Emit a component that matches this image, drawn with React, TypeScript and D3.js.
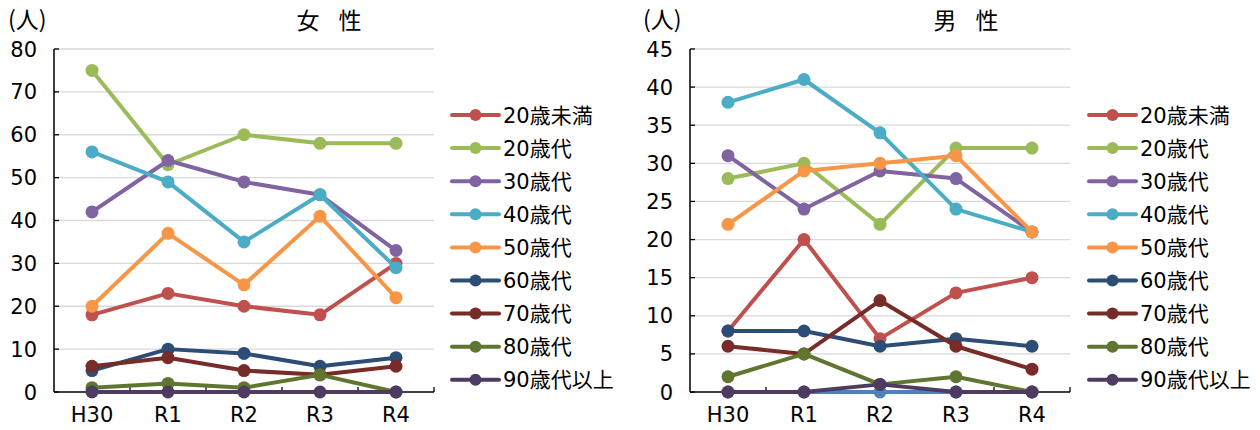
import React from "react";
import * as d3 from "d3";

const categories = ["H30", "R1", "R2", "R3", "R4"];
const seriesNames = ["20歳未満", "20歳代", "30歳代", "40歳代", "50歳代", "60歳代", "70歳代", "80歳代", "90歳代以上"];
const seriesColors = ["#C0504D", "#9BBB59", "#8064A2", "#4BACC6", "#F79646", "#2C4D75", "#772C2A", "#5F7530", "#4D3B62"];
const hiddenColor = "#4F81BD";

const femaleValues = [
  [18, 23, 20, 18, 30],
  [75, 53, 60, 58, 58],
  [42, 54, 49, 46, 33],
  [56, 49, 35, 46, 29],
  [20, 37, 25, 41, 22],
  [5, 10, 9, 6, 8],
  [6, 8, 5, 4, 6],
  [1, 2, 1, 4, 0],
  [0, 0, 0, 0, 0],
];
const maleValues = [
  [8, 20, 7, 13, 15],
  [28, 30, 22, 32, 32],
  [31, 24, 29, 28, 21],
  [38, 41, 34, 24, 21],
  [22, 29, 30, 31, 21],
  [8, 8, 6, 7, 6],
  [6, 5, 12, 6, 3],
  [2, 5, 1, 2, 0],
  [0, 0, 1, 0, 0],
];
const maleHidden = [0, 0, 0, 0, 0];

const femaleTicks = [0, 10, 20, 30, 40, 50, 60, 70, 80];
const maleTicks = [0, 5, 10, 15, 20, 25, 30, 35, 40, 45];

const FONT = "'DejaVu Sans', 'Noto Sans CJK JP', sans-serif";
const CJK = "'Noto Sans CJK JP', sans-serif";

type PanelProps = {
  x0: number;
  title: string[];
  titleX: number;
  unitX: number;
  labelRight: number;
  values: number[][];
  hidden?: number[];
  ticks: number[];
  yMax: number;
  legendLineX: number;
};

function Panel({ x0, title, titleX, unitX, labelRight, values, hidden, ticks, yMax, legendLineX }: PanelProps) {
  const top = 49;
  const bottom = 392;
  const width = 380;
  const x = d3.scaleBand<string>().domain(categories).range([x0, x0 + width]);
  const y = d3.scaleLinear().domain([0, yMax]).range([bottom, top]);
  const cx = (c: string) => (x(c) as number) + x.bandwidth() / 2;
  const line = d3
    .line<number>()
    .x((_, i) => cx(categories[i]))
    .y((d) => y(d));

  const drawSeries = (vals: number[], color: string, key: string) => (
    <g key={key}>
      <path d={line(vals) || ""} fill="none" stroke={color} strokeWidth={4} strokeLinejoin="round" />
      {vals.map((v, i) => (
        <circle key={i} cx={cx(categories[i])} cy={y(v)} r={6.5} fill={color} />
      ))}
    </g>
  );

  const legendY0 = 115;
  const legendStep = 33.1;

  return (
    <g>
      <text x={unitX} y={28} fontSize={23} fontFamily={CJK} fill="#000">(人)</text>
      <text x={titleX - 21} y={29} fontSize={23} fontFamily={CJK} textAnchor="middle" fill="#000">{title[0]}</text>
      <text x={titleX + 21} y={29} fontSize={23} fontFamily={CJK} textAnchor="middle" fill="#000">{title[1]}</text>
      {ticks.map((t) => (
        <g key={t}>
          {t > 0 && <line x1={x0} x2={x0 + width} y1={y(t)} y2={y(t)} stroke="#D9D9D9" strokeWidth={1.3} />}
          <line x1={x0} x2={x0 + 5} y1={y(t)} y2={y(t)} stroke="#000" strokeWidth={1.3} />
          <text x={labelRight} y={y(t) + 7.5} fontSize={21} fontFamily={FONT} textAnchor="end" fill="#000">{t}</text>
        </g>
      ))}
      {categories.map((c, i) => (
        <g key={c}>
          <line x1={x0 + x.step() * (i + 1)} x2={x0 + x.step() * (i + 1)} y1={bottom} y2={bottom - 5} stroke="#000" strokeWidth={1.3} />
          <text x={cx(c)} y={422} fontSize={21} fontFamily={FONT} textAnchor="middle" fill="#000">{c}</text>
        </g>
      ))}
      <line x1={x0} x2={x0} y1={top} y2={bottom} stroke="#000" strokeWidth={1.5} />
      <line x1={x0} x2={x0 + width} y1={bottom} y2={bottom} stroke="#000" strokeWidth={1.5} />
      {hidden && drawSeries(hidden, hiddenColor, "hidden")}
      {values.map((vals, s) => drawSeries(vals, seriesColors[s], seriesNames[s]))}
      {seriesNames.map((n, s) => {
        const ly = legendY0 + legendStep * s;
        return (
          <g key={n}>
            <line x1={legendLineX} x2={legendLineX + 47} y1={ly} y2={ly} stroke={seriesColors[s]} strokeWidth={4} strokeLinecap="round" />
            <circle cx={legendLineX + 23.5} cy={ly} r={6} fill={seriesColors[s]} />
            <text x={legendLineX + 51} y={ly + 7.5} fontSize={21} fontFamily={FONT} fill="#000">{n}</text>
          </g>
        );
      })}
    </g>
  );
}

export default function App() {
  return (
    <svg width={1260} height={430} style={{ position: "absolute", left: 0, top: 0, background: "#fff" }}>
      <rect width={1260} height={430} fill="#fff" />
      <Panel x0={54} title={["女", "性"]} titleX={329} unitX={8} labelRight={37} values={femaleValues} ticks={femaleTicks} yMax={80} legendLineX={452} />
      <Panel x0={690} title={["男", "性"]} titleX={966} unitX={643} labelRight={673} values={maleValues} hidden={maleHidden} ticks={maleTicks} yMax={45} legendLineX={1089} />
    </svg>
  );
}
